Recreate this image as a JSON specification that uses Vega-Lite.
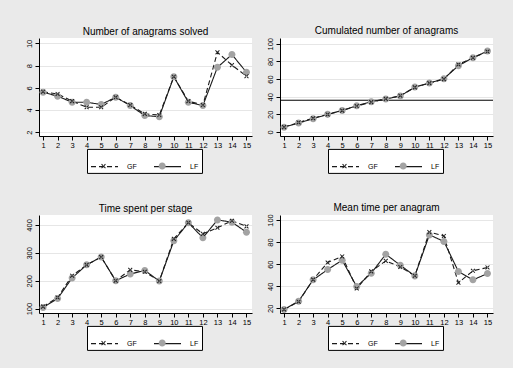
{
  "$schema": "https://vega.github.io/schema/vega-lite/v6.json",
  "background": "#eaeaea",
  "padding": {"left": 24, "top": 26, "right": 23, "bottom": 19},
  "datasets": {
    "d": [
      {"stage": 1, "series": "LF", "solved": 5.6, "cum": 5.5, "time": 104, "mean": 19},
      {"stage": 2, "series": "LF", "solved": 5.25, "cum": 10.2, "time": 136, "mean": 26.5},
      {"stage": 3, "series": "LF", "solved": 4.7, "cum": 15.1, "time": 210, "mean": 45.8},
      {"stage": 4, "series": "LF", "solved": 4.7, "cum": 20, "time": 257, "mean": 55.1},
      {"stage": 5, "series": "LF", "solved": 4.5, "cum": 24.5, "time": 285, "mean": 63.6},
      {"stage": 6, "series": "LF", "solved": 5.15, "cum": 29.8, "time": 200, "mean": 39.7},
      {"stage": 7, "series": "LF", "solved": 4.4, "cum": 34.3, "time": 224, "mean": 51.8},
      {"stage": 8, "series": "LF", "solved": 3.5, "cum": 37.4, "time": 237, "mean": 69},
      {"stage": 9, "series": "LF", "solved": 3.4, "cum": 40.8, "time": 199, "mean": 59},
      {"stage": 10, "series": "LF", "solved": 7.0, "cum": 50.9, "time": 343, "mean": 49.4},
      {"stage": 11, "series": "LF", "solved": 4.7, "cum": 55.5, "time": 408, "mean": 86.5},
      {"stage": 12, "series": "LF", "solved": 4.4, "cum": 60.4, "time": 354, "mean": 80.6},
      {"stage": 13, "series": "LF", "solved": 7.85, "cum": 75.1, "time": 418, "mean": 53.3},
      {"stage": 14, "series": "LF", "solved": 9.0, "cum": 84.2, "time": 410, "mean": 45.8},
      {"stage": 15, "series": "LF", "solved": 7.4, "cum": 91.7, "time": 374, "mean": 51.5},
      {"stage": 1, "series": "GF", "solved": 5.65, "cum": 5.6, "time": 107, "mean": 19},
      {"stage": 2, "series": "GF", "solved": 5.45, "cum": 10.8, "time": 140, "mean": 26},
      {"stage": 3, "series": "GF", "solved": 4.8, "cum": 15.6, "time": 218, "mean": 46},
      {"stage": 4, "series": "GF", "solved": 4.25, "cum": 19.9, "time": 257, "mean": 61.5},
      {"stage": 5, "series": "GF", "solved": 4.25, "cum": 24.2, "time": 285, "mean": 67},
      {"stage": 6, "series": "GF", "solved": 5.15, "cum": 29.4, "time": 200, "mean": 38},
      {"stage": 7, "series": "GF", "solved": 4.45, "cum": 33.9, "time": 239, "mean": 53.5},
      {"stage": 8, "series": "GF", "solved": 3.65, "cum": 37.6, "time": 232, "mean": 63},
      {"stage": 9, "series": "GF", "solved": 3.55, "cum": 41.1, "time": 199, "mean": 57.5},
      {"stage": 10, "series": "GF", "solved": 7.0, "cum": 50.6, "time": 350, "mean": 49.5},
      {"stage": 11, "series": "GF", "solved": 4.8, "cum": 55.4, "time": 408, "mean": 89},
      {"stage": 12, "series": "GF", "solved": 4.45, "cum": 59.9, "time": 368, "mean": 85.5},
      {"stage": 13, "series": "GF", "solved": 9.2, "cum": 76.5, "time": 390, "mean": 43.2},
      {"stage": 14, "series": "GF", "solved": 8.05, "cum": 84.1, "time": 415, "mean": 54},
      {"stage": 15, "series": "GF", "solved": 7.05, "cum": 91.2, "time": 395, "mean": 57}
    ]
  },
  "data": {"name": "d"},
  "config": {
    "view": {"fill": "#ffffff", "stroke": null},
    "font": "Liberation Sans",
    "title": {"fontSize": 10, "fontWeight": "normal", "color": "#000", "font": "Liberation Sans", "offset": 1},
    "axis": {"domainColor": "#000", "tickColor": "#000", "labelColor": "#000", "titleColor": "#000", "labelFont": "Liberation Sans", "titleFont": "Liberation Sans", "labelFontSize": 7.5, "titleFontSize": 7.5, "titleFontWeight": "normal", "tickSize": 4, "domainWidth": 1, "tickWidth": 1, "gridColor": "#e6e6e6", "gridWidth": 1, "tickCount": 20, "format": "d"},
    "axisX": {"grid": false, "labelPadding": 1, "titlePadding": 1, "labelAngle": 0, "labelFlush": false, "labelOverlap": false},
    "axisY": {"grid": true, "labelAngle": 270, "labelAlign": "center", "labelBaseline": "bottom", "labelPadding": 2, "labelFlush": false, "labelOverlap": false}
  },
  "columns": 2,
  "spacing": {"row": 28, "column": 13},
  "resolve": {
    "scale": {"y": "independent", "strokeDash": "independent", "shape": "independent", "color": "independent"},
    "legend": {"strokeDash": "independent", "shape": "independent", "color": "independent"}
  },
  "concat": [
    {
      "width": 213, "height": 98,
      "title": "Number of anagrams solved",
      "layer": [
        {
          "mark": {"type": "line", "color": "#1a1a1a", "strokeWidth": 1.1},
          "encoding": {
            "x": {"field": "stage", "type": "quantitative", "scale": {"domain": [0.72, 15.38], "nice": false, "zero": false}, "axis": {"values": [1,2,3,4,5,6,7,8,9,10,11,12,13,14,15], "tickCount": 20, "title": "Stages", "format": "d", "labelOverlap": false}},
            "y": {"field": "solved", "type": "quantitative", "scale": {"domain": [1.66, 10.49], "nice": false, "zero": false}, "axis": {"values": [2,4,6,8,10], "tickCount": 20, "title": null, "format": "d", "labelOverlap": false}},
            "strokeDash": {"field": "series", "type": "nominal", "scale": {"range": [[5,3],[1,0]]}, "legend": {"orient": "none", "legendX": 48, "legendY": 110.9, "direction": "horizontal", "title": null, "symbolType": "stroke", "symbolSize": 729, "symbolStrokeColor": "#1a1a1a", "symbolStrokeWidth": 1.1, "labelFontSize": 7, "labelOffset": 8, "columnPadding": 14, "padding": 3, "strokeColor": "#000", "fillColor": "#fff", "cornerRadius": 0, "zindex": 0}}
          }
        },
        {
          "mark": {"type": "point", "filled": true, "size": 729, "opacity": 1, "strokeWidth": 0},
          "encoding": {
            "x": {"field": "stage", "type": "quantitative"},
            "y": {"field": "solved", "type": "quantitative"},
            "shape": {"field": "series", "type": "nominal", "scale": {"domain": ["GF", "LF"], "range": ["M-0.17,-0.12L-0.12,-0.17L0.17,0.12L0.12,0.17ZM-0.17,0.12L-0.12,0.17L0.17,-0.12L0.12,-0.17Z", "M-0.26,0A0.26,0.26,0,1,0,0.26,0A0.26,0.26,0,1,0,-0.26,0Z"]}, "legend": {"orient": "none", "legendX": 48, "legendY": 110.9, "direction": "horizontal", "title": null, "symbolSize": 729, "symbolStrokeWidth": 0, "labelFontSize": 7, "labelOffset": 8, "columnPadding": 23.7, "padding": 3, "labelExpr": "''", "zindex": 1}},
            "color": {"field": "series", "type": "nominal", "scale": {"domain": ["GF", "LF"], "range": ["#1a1a1a", "#a3a3a3"]}, "legend": {"orient": "none", "legendX": 48, "legendY": 110.9, "direction": "horizontal", "title": null, "symbolSize": 729, "symbolStrokeWidth": 0, "labelFontSize": 7, "labelOffset": 8, "columnPadding": 23.7, "padding": 3, "labelExpr": "''", "zindex": 1}}
          }
        }
      ]
    },
    {
      "width": 213, "height": 98,
      "title": "Cumulated number of anagrams",
      "layer": [
        {
          "data": {"values": [{"ref": 36}]},
          "mark": {"type": "rule", "color": "#000", "strokeWidth": 1},
          "encoding": {"y": {"field": "ref", "type": "quantitative"}}
        },
        {
          "mark": {"type": "line", "color": "#1a1a1a", "strokeWidth": 1.1},
          "encoding": {
            "x": {"field": "stage", "type": "quantitative", "scale": {"domain": [0.72, 15.38], "nice": false, "zero": false}, "axis": {"values": [1,2,3,4,5,6,7,8,9,10,11,12,13,14,15], "tickCount": 20, "title": "Stages", "format": "d", "labelOverlap": false}},
            "y": {"field": "cum", "type": "quantitative", "scale": {"domain": [-4.5, 106.5], "nice": false, "zero": false}, "axis": {"values": [0,20,40,60,80,100], "tickCount": 20, "title": null, "format": "d", "labelOverlap": false}},
            "strokeDash": {"field": "series", "type": "nominal", "scale": {"range": [[5,3],[1,0]]}, "legend": {"orient": "none", "legendX": 48, "legendY": 110.9, "direction": "horizontal", "title": null, "symbolType": "stroke", "symbolSize": 729, "symbolStrokeColor": "#1a1a1a", "symbolStrokeWidth": 1.1, "labelFontSize": 7, "labelOffset": 8, "columnPadding": 14, "padding": 3, "strokeColor": "#000", "fillColor": "#fff", "cornerRadius": 0, "zindex": 0}}
          }
        },
        {
          "mark": {"type": "point", "filled": true, "size": 729, "opacity": 1, "strokeWidth": 0},
          "encoding": {
            "x": {"field": "stage", "type": "quantitative"},
            "y": {"field": "cum", "type": "quantitative"},
            "shape": {"field": "series", "type": "nominal", "scale": {"domain": ["GF", "LF"], "range": ["M-0.17,-0.12L-0.12,-0.17L0.17,0.12L0.12,0.17ZM-0.17,0.12L-0.12,0.17L0.17,-0.12L0.12,-0.17Z", "M-0.26,0A0.26,0.26,0,1,0,0.26,0A0.26,0.26,0,1,0,-0.26,0Z"]}, "legend": {"orient": "none", "legendX": 48, "legendY": 110.9, "direction": "horizontal", "title": null, "symbolSize": 729, "symbolStrokeWidth": 0, "labelFontSize": 7, "labelOffset": 8, "columnPadding": 23.7, "padding": 3, "labelExpr": "''", "zindex": 1}},
            "color": {"field": "series", "type": "nominal", "scale": {"domain": ["GF", "LF"], "range": ["#1a1a1a", "#a3a3a3"]}, "legend": {"orient": "none", "legendX": 48, "legendY": 110.9, "direction": "horizontal", "title": null, "symbolSize": 729, "symbolStrokeWidth": 0, "labelFontSize": 7, "labelOffset": 8, "columnPadding": 23.7, "padding": 3, "labelExpr": "''", "zindex": 1}}
          }
        }
      ]
    },
    {
      "width": 213, "height": 98,
      "title": "Time spent per stage",
      "layer": [
        {
          "mark": {"type": "line", "color": "#1a1a1a", "strokeWidth": 1.1},
          "encoding": {
            "x": {"field": "stage", "type": "quantitative", "scale": {"domain": [0.72, 15.38], "nice": false, "zero": false}, "axis": {"values": [1,2,3,4,5,6,7,8,9,10,11,12,13,14,15], "tickCount": 20, "title": "Stages", "format": "d", "labelOverlap": false}},
            "y": {"field": "time", "type": "quantitative", "scale": {"domain": [84.3, 435.7], "nice": false, "zero": false}, "axis": {"values": [100,200,300,400], "tickCount": 20, "title": null, "format": "d", "labelOverlap": false}},
            "strokeDash": {"field": "series", "type": "nominal", "scale": {"range": [[5,3],[1,0]]}, "legend": {"orient": "none", "legendX": 48, "legendY": 110.9, "direction": "horizontal", "title": null, "symbolType": "stroke", "symbolSize": 729, "symbolStrokeColor": "#1a1a1a", "symbolStrokeWidth": 1.1, "labelFontSize": 7, "labelOffset": 8, "columnPadding": 14, "padding": 3, "strokeColor": "#000", "fillColor": "#fff", "cornerRadius": 0, "zindex": 0}}
          }
        },
        {
          "mark": {"type": "point", "filled": true, "size": 729, "opacity": 1, "strokeWidth": 0},
          "encoding": {
            "x": {"field": "stage", "type": "quantitative"},
            "y": {"field": "time", "type": "quantitative"},
            "shape": {"field": "series", "type": "nominal", "scale": {"domain": ["GF", "LF"], "range": ["M-0.17,-0.12L-0.12,-0.17L0.17,0.12L0.12,0.17ZM-0.17,0.12L-0.12,0.17L0.17,-0.12L0.12,-0.17Z", "M-0.26,0A0.26,0.26,0,1,0,0.26,0A0.26,0.26,0,1,0,-0.26,0Z"]}, "legend": {"orient": "none", "legendX": 48, "legendY": 110.9, "direction": "horizontal", "title": null, "symbolSize": 729, "symbolStrokeWidth": 0, "labelFontSize": 7, "labelOffset": 8, "columnPadding": 23.7, "padding": 3, "labelExpr": "''", "zindex": 1}},
            "color": {"field": "series", "type": "nominal", "scale": {"domain": ["GF", "LF"], "range": ["#1a1a1a", "#a3a3a3"]}, "legend": {"orient": "none", "legendX": 48, "legendY": 110.9, "direction": "horizontal", "title": null, "symbolSize": 729, "symbolStrokeWidth": 0, "labelFontSize": 7, "labelOffset": 8, "columnPadding": 23.7, "padding": 3, "labelExpr": "''", "zindex": 1}}
          }
        }
      ]
    },
    {
      "width": 213, "height": 98,
      "title": "Mean time per anagram",
      "layer": [
        {
          "mark": {"type": "line", "color": "#1a1a1a", "strokeWidth": 1.1},
          "encoding": {
            "x": {"field": "stage", "type": "quantitative", "scale": {"domain": [0.72, 15.38], "nice": false, "zero": false}, "axis": {"values": [1,2,3,4,5,6,7,8,9,10,11,12,13,14,15], "tickCount": 20, "title": "Stages", "format": "d", "labelOverlap": false}},
            "y": {"field": "mean", "type": "quantitative", "scale": {"domain": [15.8, 104.5], "nice": false, "zero": false}, "axis": {"values": [20,40,60,80,100], "tickCount": 20, "title": null, "format": "d", "labelOverlap": false}},
            "strokeDash": {"field": "series", "type": "nominal", "scale": {"range": [[5,3],[1,0]]}, "legend": {"orient": "none", "legendX": 48, "legendY": 110.9, "direction": "horizontal", "title": null, "symbolType": "stroke", "symbolSize": 729, "symbolStrokeColor": "#1a1a1a", "symbolStrokeWidth": 1.1, "labelFontSize": 7, "labelOffset": 8, "columnPadding": 14, "padding": 3, "strokeColor": "#000", "fillColor": "#fff", "cornerRadius": 0, "zindex": 0}}
          }
        },
        {
          "mark": {"type": "point", "filled": true, "size": 729, "opacity": 1, "strokeWidth": 0},
          "encoding": {
            "x": {"field": "stage", "type": "quantitative"},
            "y": {"field": "mean", "type": "quantitative"},
            "shape": {"field": "series", "type": "nominal", "scale": {"domain": ["GF", "LF"], "range": ["M-0.17,-0.12L-0.12,-0.17L0.17,0.12L0.12,0.17ZM-0.17,0.12L-0.12,0.17L0.17,-0.12L0.12,-0.17Z", "M-0.26,0A0.26,0.26,0,1,0,0.26,0A0.26,0.26,0,1,0,-0.26,0Z"]}, "legend": {"orient": "none", "legendX": 48, "legendY": 110.9, "direction": "horizontal", "title": null, "symbolSize": 729, "symbolStrokeWidth": 0, "labelFontSize": 7, "labelOffset": 8, "columnPadding": 23.7, "padding": 3, "labelExpr": "''", "zindex": 1}},
            "color": {"field": "series", "type": "nominal", "scale": {"domain": ["GF", "LF"], "range": ["#1a1a1a", "#a3a3a3"]}, "legend": {"orient": "none", "legendX": 48, "legendY": 110.9, "direction": "horizontal", "title": null, "symbolSize": 729, "symbolStrokeWidth": 0, "labelFontSize": 7, "labelOffset": 8, "columnPadding": 23.7, "padding": 3, "labelExpr": "''", "zindex": 1}}
          }
        }
      ]
    }
  ]
}
